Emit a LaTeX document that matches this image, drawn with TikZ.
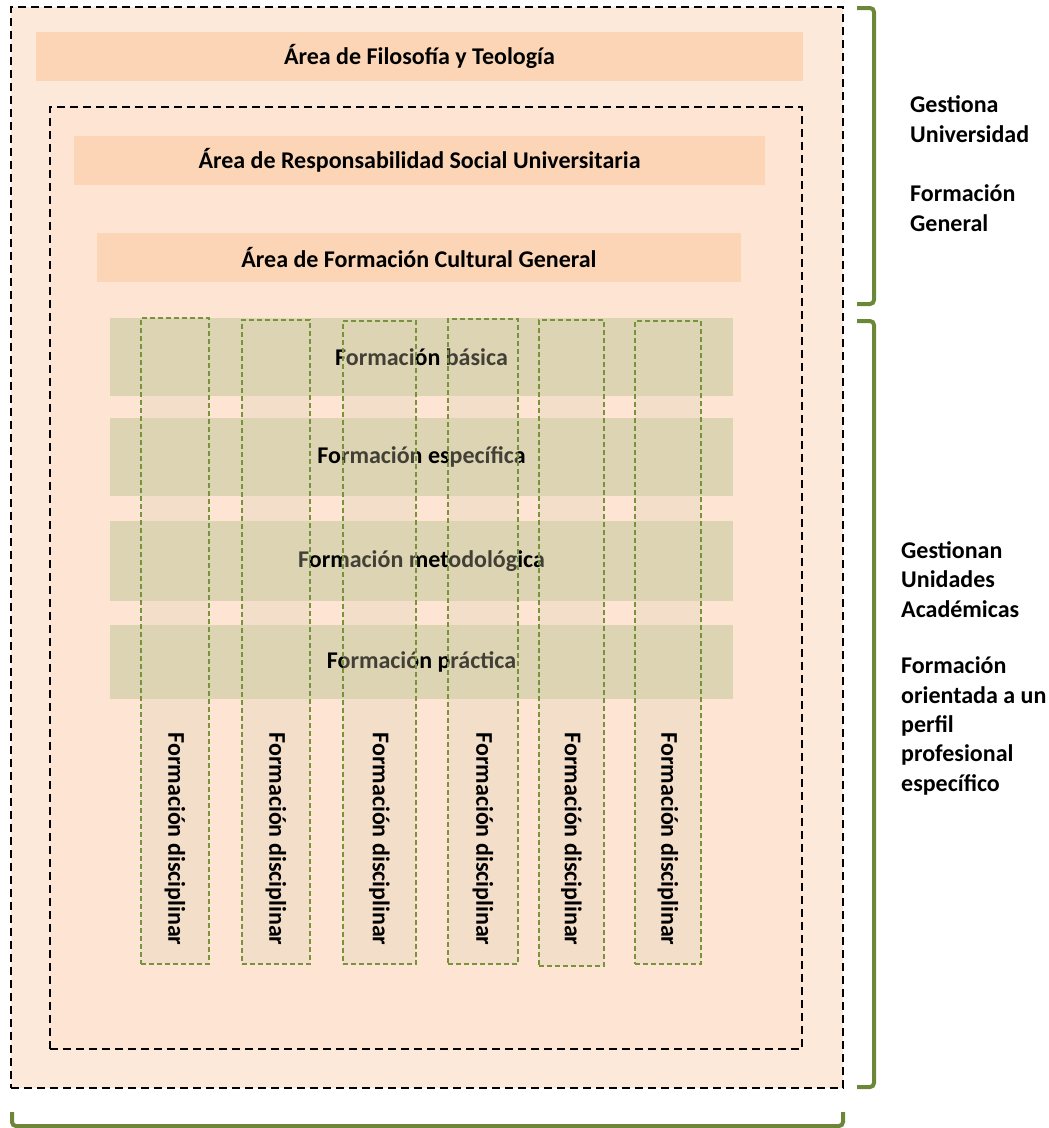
\documentclass[tikz,border=0pt]{standalone}
\usepackage{fontspec}
\setmainfont{Carlito}
\usetikzlibrary{positioning}
\definecolor{outerfill}{HTML}{FDE9D9}
\definecolor{innerfill}{HTML}{FDE4D3}
\definecolor{areafill}{HTML}{FBD5B5}
\definecolor{tanfill}{HTML}{DDD4B3}
\definecolor{olive}{HTML}{77933C}
\definecolor{bracegreen}{HTML}{6C8737}
\tikzset{
	frame/.style={draw=black, line width=2pt, dash pattern=on 8pt off 5pt, inner sep=0pt},
	area/.style={fill=areafill, inner sep=0pt, minimum height=49pt, font=\bfseries\fontsize{24}{29}\selectfont},
	level/.style={fill=tanfill, inner sep=0pt, minimum width=623pt, font=\bfseries\fontsize{24}{29}\selectfont},
	colbox/.style={draw=olive, line width=1.1pt, dash pattern=on 5pt off 3pt, fill=tanfill, fill opacity=0.3, inner sep=0pt},
	coltext/.style={rotate=-90, inner sep=0pt, font=\bfseries\fontsize{24}{29}\selectfont},
	brace/.style={draw=bracegreen, line width=4pt, rounded corners=4pt},
	note/.style={align=left, anchor=base west, inner sep=0pt, font=\bfseries\fontsize{24}{29.3}\selectfont}
}
\begin{document}
\begin{tikzpicture}[x=1pt,y=-1pt]
	\useasboundingbox (0,0) rectangle (1049,1128);

	% frames
	\node[frame, fill=outerfill, minimum width=832pt, minimum height=1081pt] (outer) at (427,547.5) {};
	\node[frame, fill=innerfill, minimum width=752pt, minimum height=942pt] (inner) at (426,578) {};

	% general areas
	\node[area, minimum width=767pt] (filo) at (419.5,56.5) {Área de Filosofía y Teología};
	\node[area, minimum width=691pt] (rsu) at (419.5,160.5) {Área de Responsabilidad Social Universitaria};
	\node[area, minimum width=644pt] (cult) at (419,257.5) {Área de Formación Cultural General};

	% levels
	\node[level, minimum height=78pt] (basica) at (421.5,357) {Formación básica};
	\node[level, minimum height=78pt] (especifica) at (421.5,457) {Formación específica};
	\node[level, minimum height=80pt] (metodo) at (421.5,561) {Formación metodológica};
	\node[level, minimum height=74pt] (practica) at (421.5,662) {Formación práctica};

	% disciplinary columns
	\node[colbox, minimum width=68pt, minimum height=646pt] (col1) at (175,641) {};
	\node[colbox, minimum width=68pt, minimum height=644pt] (col2) at (276,642) {};
	\node[colbox, minimum width=73pt, minimum height=643pt] (col3) at (379.5,642.5) {};
	\node[colbox, minimum width=70pt, minimum height=645pt] (col4) at (483,641.5) {};
	\node[colbox, minimum width=65pt, minimum height=646pt] (col5) at (571.5,643) {};
	\node[colbox, minimum width=66pt, minimum height=643pt] (col6) at (668,642.5) {};

	\node[coltext] (disc1) at (175,839) {Formación disciplinar};
	\node[coltext] (disc2) at (276,839) {Formación disciplinar};
	\node[coltext] (disc3) at (379.5,839) {Formación disciplinar};
	\node[coltext] (disc4) at (483,839) {Formación disciplinar};
	\node[coltext] (disc5) at (571.5,839) {Formación disciplinar};
	\node[coltext] (disc6) at (668,839) {Formación disciplinar};

	% braces
	\draw[brace] (857,8) -- (874,8) -- (874,304) -- (857,304);
	\draw[brace] (857,321) -- (874,321) -- (874,1087) -- (857,1087);
	\draw[brace] (12,1112) -- (12,1126) -- (843,1126) -- (843,1112);

	% notes (base = last line)
	\node[note] (univ) at (910,142) {Gestiona\\Universidad};
	\node[note] (general) at (910,231) {Formación\\General};
	\node[note] (unidades) at (901,617) {Gestionan\\Unidades\\Académicas};
	\node[note] (perfil) at (901,791) {Formación\\orientada a un\\perfil\\profesional\\específico};
\end{tikzpicture}
\end{document}
